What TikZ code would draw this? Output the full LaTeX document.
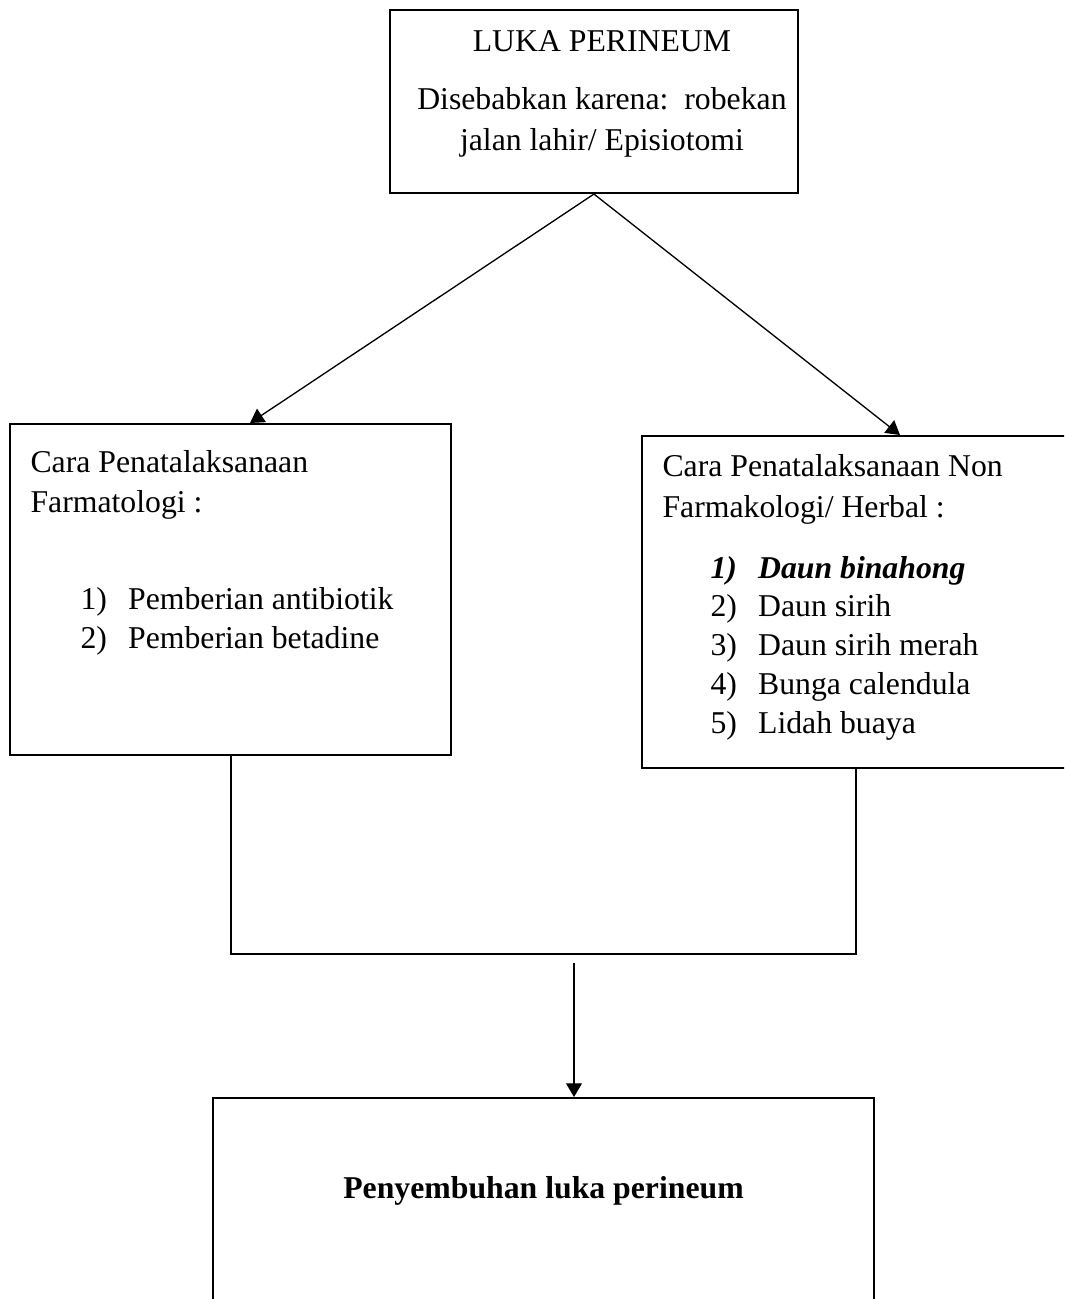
\documentclass[tikz,border=0pt]{standalone}
\usepackage{fontspec}
\setmainfont{Liberation Serif}
\usetikzlibrary{arrows.meta, calc}

\newcommand{\litem}[2]{\makebox[18pt][l]{#1}#2}

\begin{document}
\begin{tikzpicture}[
    x=0.378pt, y=-0.378pt,
    box/.style   = {rectangle, draw, line width=0.75pt, inner sep=0pt,
                    anchor=north west},
    txt/.style   = {anchor=base west, inner sep=0pt,
                    font=\fontsize{12}{14.5}\selectfont},
    ctxt/.style  = {txt, anchor=base},
    link/.style  = {line width=0.5pt},
    arrow/.style = {link, -{Triangle[length=5.2pt, width=6pt]}}
]
\clip (0,0) rectangle (1064,1299);

% ========= boxes =========
\node[box, minimum width=154.2pt, minimum height=69.2pt]  (cause)   at (389,9)    {};
\node[box, minimum width=166.7pt, minimum height=125.1pt] (farma)   at (9,423)    {};
\node[box, minimum width=166.3pt, minimum height=125.5pt] (herbal)  at (641,435)  {};
\node[box, minimum width=249.9pt, minimum height=83.2pt]  (healing) at (212,1097) {};

% ========= top box text =========
\node[ctxt] (causeA) at ([shift={(8,42)}]cause.north)  {LUKA PERINEUM};
\node[ctxt] (causeB) at ([shift={(8,100)}]cause.north) {Disebabkan karena:\ \ robekan};
\node[ctxt] (causeC) at ([shift={(8,141)}]cause.north) {jalan lahir/ Episiotomi};

% ========= left box: pharmacological =========
\node[txt] (farmaA) at ([shift={(21,49)}]farma.north west)  {Cara Penatalaksanaan};
\node[txt] (farmaB) at ([shift={(21,89)}]farma.north west)  {Farmatologi :};
\node[txt] (farma1) at ([shift={(71,186)}]farma.north west) {\litem{1)}{Pemberian antibiotik}};
\node[txt] (farma2) at ([shift={(71,225)}]farma.north west) {\litem{2)}{Pemberian betadine}};

% ========= right box: herbal =========
\node[txt] (herbalA) at ([shift={(21,41)}]herbal.north west)  {Cara Penatalaksanaan Non};
\node[txt] (herbalB) at ([shift={(21,82)}]herbal.north west)  {Farmakologi/ Herbal :};
\node[txt] (herbal1) at ([shift={(69,143)}]herbal.north west) {\bfseries\itshape\litem{1)}{Daun binahong}};
\node[txt] (herbal2) at ([shift={(69,181)}]herbal.north west) {\litem{2)}{Daun sirih}};
\node[txt] (herbal3) at ([shift={(69,220)}]herbal.north west) {\litem{3)}{Daun sirih merah}};
\node[txt] (herbal4) at ([shift={(69,259)}]herbal.north west) {\litem{4)}{Bunga calendula}};
\node[txt] (herbal5) at ([shift={(69,298)}]herbal.north west) {\litem{5)}{Lidah buaya}};

% ========= bottom box text =========
\node[ctxt, font=\fontsize{12}{14.5}\selectfont\bfseries] (healingA)
    at ([shift={(0,101)}]healing.north) {Penyembuhan luka perineum};

% ========= connectors =========
\coordinate (ltip)  at ([shift={(241,0)}]farma.north west);
\coordinate (rtip)  at ([shift={(259,0)}]herbal.north west);
\coordinate (ldrop) at ([shift={(222,0)}]farma.south west);
\coordinate (rdrop) at ([shift={(215,0)}]herbal.south west);
\coordinate (join)  at (574,963);

\draw[arrow] (cause.south) -- (ltip);
\draw[arrow] (cause.south) -- (rtip);
\draw[link]  (ldrop) -- ++(0,198) -| (rdrop);
\draw[arrow] (join) -- (join |- healing.north);

\end{tikzpicture}
\end{document}
